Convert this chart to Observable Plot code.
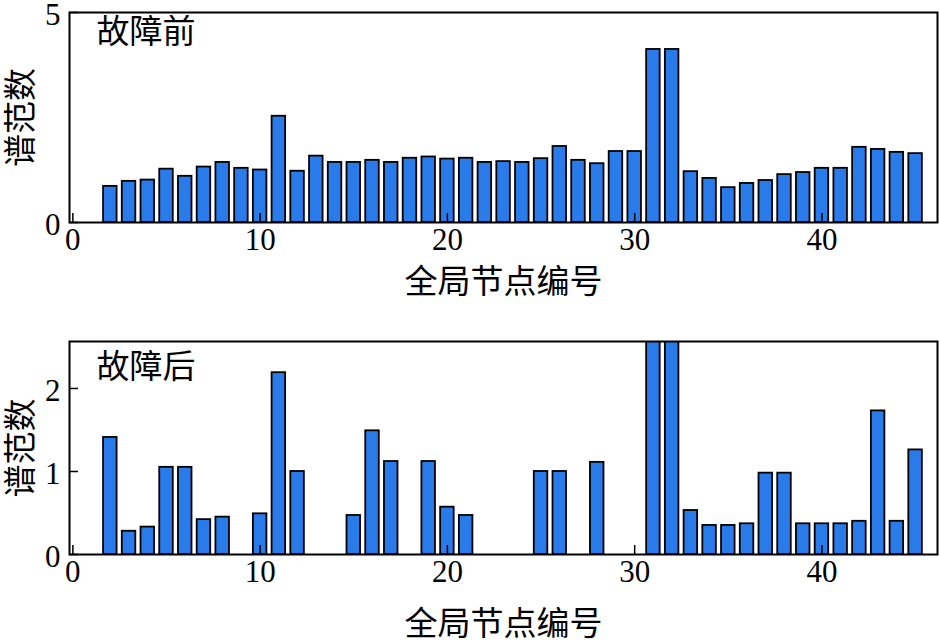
<!DOCTYPE html>
<html>
<head>
<meta charset="utf-8">
<script src="https://cdn.jsdelivr.net/npm/d3@7"></script>
<script src="https://cdn.jsdelivr.net/npm/@observablehq/plot@0.6"></script>
<style>
  html, body { margin: 0; padding: 0; background: #fff; }
  #chart svg { display: block; }
</style>
</head>
<body>
<div id="chart"></div>
<script>
// ---- data ----
const nodes = [2,3,4,5,6,7,8,9,10,11,12,13,14,15,16,17,18,19,20,21,22,23,24,25,26,27,28,29,30,31,32,33,34,35,36,37,38,39,40,41,42,43,44,45];
const beforeValues = [0.86,0.98,1.01,1.27,1.10,1.32,1.43,1.29,1.25,2.53,
                      1.22,1.58,1.43,1.43,1.48,1.43,1.53,1.56,1.51,1.53,
                      1.43,1.45,1.43,1.52,1.81,1.48,1.40,1.69,1.69,4.12,
                      4.12,1.21,1.05,0.83,0.93,1.00,1.14,1.19,1.29,1.29,
                      1.79,1.74,1.67,1.64];
const afterValues = [1.41,0.28,0.33,1.05,1.05,0.42,0.45,0,0.49,2.19,
                     1.00,0,0,0.47,1.49,1.12,0,1.12,0.57,0.47,
                     0,0,0,1.00,1.00,0,1.11,0,0,3.0,
                     3.0,0.53,0.35,0.35,0.37,0.98,0.98,0.37,0.37,0.37,
                     0.40,1.73,0.40,1.26];
const xTicks = [0, 10, 20, 30, 40];
const yTicksBefore = [0, 5];
const yTicksAfter = [0, 1, 2];
const panelTitles = ["故障前", "故障后"];
const xLabel = "全局节点编号";
const yLabel = "谱范数";

// ---- style ----
const W = 939;
const mLeft = 69, mRight = 2;
const innerW = W - mLeft - mRight;
const serif = "'Liberation Serif', 'Times New Roman', 'Noto Sans CJK SC', serif";
const cjk = "'Noto Sans CJK SC', sans-serif";
const barFill = "#2A7BEA";

function panel({values, yDomain, yTicks, title, height, marginTop, marginBottom, titleDy, xLabelDy}) {
  const data = nodes.map((n, i) => ({node: n, value: values[i]}));
  const innerH = height - marginTop - marginBottom;
  return Plot.plot({
    width: W,
    height,
    marginLeft: mLeft,
    marginRight: mRight,
    marginTop,
    marginBottom,
    style: {fontFamily: serif, fontSize: "30px", background: "#fff", overflow: "visible"},
    x: {domain: [-0.18, 46.17]},
    y: {domain: yDomain},
    marks: [
      Plot.rectY(data, {
        x1: d => d.node - 0.5,
        x2: d => d.node + 0.5,
        y: "value",
        insetLeft: 2.6,
        insetRight: 2.6,
        fill: barFill,
        stroke: "#000",
        strokeWidth: 1.8,
        clip: true
      }),
      Plot.frame({stroke: "#000", strokeWidth: 2}),
      Plot.axisX(xTicks, {tickSize: 0, tickPadding: 5, label: null, tickFormat: d => String(d), fontSize: 31, fontFamily: serif}),
      Plot.axisY(yTicks, {tickSize: 0, tickPadding: 9, dy: 3, label: null, tickFormat: d => String(d), fontSize: 31, fontFamily: serif}),
      Plot.tickX(xTicks, {x: d => d, insetTop: innerH - 9, stroke: "#000", strokeWidth: 1.5}),
      Plot.tickY(yTicks, {y: d => d, insetRight: innerW - 9, stroke: "#000", strokeWidth: 1.5}),
      Plot.text([title], {text: d => d, frameAnchor: "top-left", dx: 27, dy: titleDy, textAnchor: "start", lineAnchor: "top", fontSize: 33, fontFamily: cjk, fill: "#000"}),
      Plot.text([xLabel], {text: d => d, frameAnchor: "bottom", dy: xLabelDy, textAnchor: "middle", lineAnchor: "middle", fontSize: 33, fontFamily: cjk, fill: "#000"}),
      Plot.text([yLabel], {text: d => d, frameAnchor: "left", dx: -48, rotate: -90, textAnchor: "middle", lineAnchor: "middle", fontSize: 33, fontFamily: cjk, fill: "#000"})
    ]
  });
}

const chart = document.getElementById("chart");
chart.append(panel({
  values: beforeValues, yDomain: [0, 5], yTicks: yTicksBefore, title: panelTitles[0],
  height: 305, marginTop: 12, marginBottom: 83, titleDy: 7, xLabelDy: 60
}));
chart.append(panel({
  values: afterValues, yDomain: [0, 2.566], yTicks: yTicksAfter, title: panelTitles[1],
  height: 338, marginTop: 36, marginBottom: 89, titleDy: 13, xLabelDy: 70
}));
</script>
</body>
</html>
